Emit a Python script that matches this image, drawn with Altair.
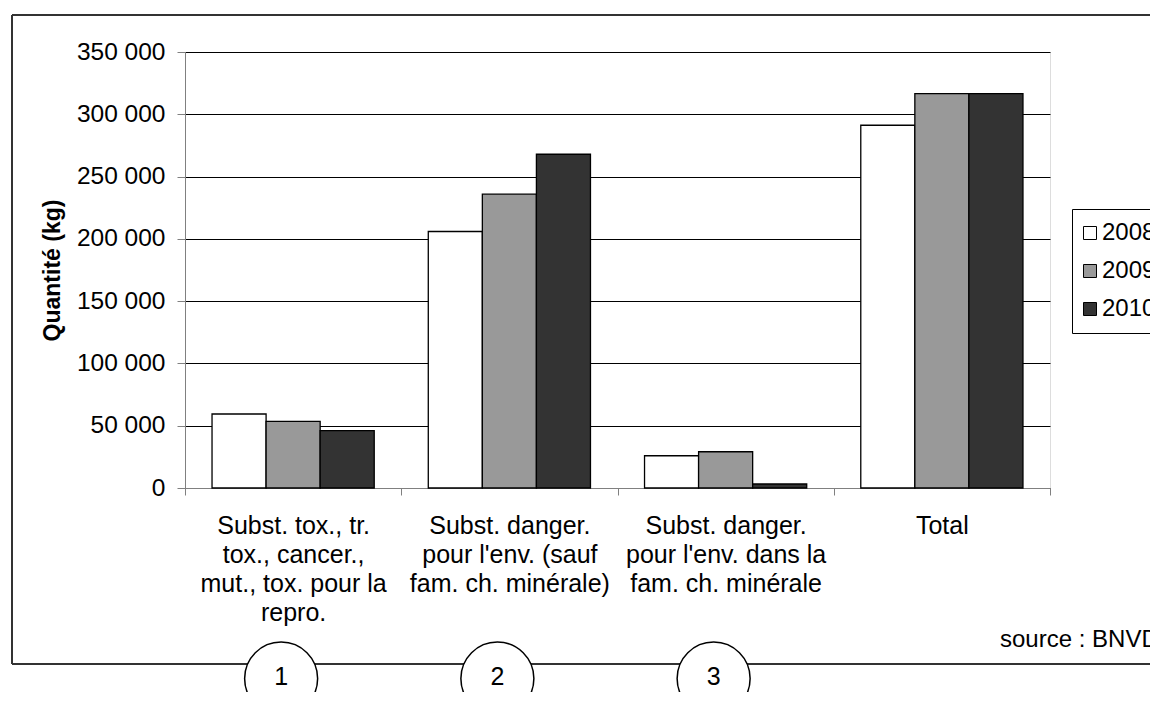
import altair as alt
import pandas as pd

categories = [
    "Subst. tox., tr.|tox., cancer.,|mut., tox. pour la|repro.",
    "Subst. danger.|pour l'env. (sauf|fam. ch. minérale)",
    "Subst. danger.|pour l'env. dans la|fam. ch. minérale",
    "Total",
]
years = ["2008", "2009", "2010"]
values_2008 = [59400, 205900, 25900, 291200]
values_2009 = [53500, 235900, 29100, 316600]
values_2010 = [46000, 267900, 3200, 316600]
year_colors = ["#ffffff", "#999999", "#333333"]
y_ticks = [0, 50000, 100000, 150000, 200000, 250000, 300000, 350000]
circle_labels = ["1", "2", "3"]
source_text = ["source : BNVD"]
y_title = "Quantité (kg)"

FONT = "Liberation Sans"

rows = []
for yr, vals in zip(years, [values_2008, values_2009, values_2010]):
    for c, v in zip(categories, vals):
        rows.append({"category": c, "year": yr, "value": v})
df = pd.DataFrame(rows)

x_enc = alt.X(
    "category:N",
    sort=categories,
    scale=alt.Scale(paddingInner=0, paddingOuter=0),
    axis=alt.Axis(
        title=None,
        tickBand="extent",
        labelExpr="split(datum.label, '|')",
        labelFont=FONT,
        labelFontSize=25,
        labelColor="#000000",
        labelAngle=0,
        labelLineHeight=29,
        labelPadding=18,
        labelLimit=400,
        labelOverlap=False,
        labelBound=False,
        tickSize=7,
        tickColor="#808080",
        domainColor="#808080",
        grid=False,
    ),
)

bars = alt.Chart(df).mark_bar(stroke="#000000", strokeWidth=1.3).encode(
    x=x_enc,
    xOffset=alt.XOffset("year:N", sort=years,
                        scale=alt.Scale(paddingInner=0, paddingOuter=0.5)),
    y=alt.Y(
        "value:Q",
        scale=alt.Scale(domain=[0, 350000], nice=False),
        axis=alt.Axis(
            values=y_ticks,
            labelExpr="replace(format(datum.value, ',d'), ',', ' ')",
            labelFont=FONT,
            labelFontSize=24.5,
            labelColor="#000000",
            labelPadding=12,
            tickSize=8,
            tickColor="#808080",
            domainColor="#808080",
            grid=True,
            gridColor="#000000",
            gridWidth=1,
            title=y_title,
            titleFont=FONT,
            titleFontSize=23,
            titleFontWeight="bold",
            titleColor="#000000",
            titleAngle=270,
            titleX=-133,
            titleY=218,
            titleAlign="center",
            titleBaseline="middle",
        ),
    ),
    fill=alt.Fill(
        "year:N",
        scale=alt.Scale(domain=years, range=year_colors),
        legend=alt.Legend(
            title=None,
            orient="none",
            legendX=887,
            legendY=157,
            symbolType="square",
            symbolSize=169,
            symbolStrokeColor="#000000",
            symbolStrokeWidth=1,
            symbolOffset={"expr": "-6"},
            labelFont=FONT,
            labelFontSize=24,
            labelColor="#000000",
            labelOffset=0,
            padding=12,
            rowPadding=14,
            strokeColor="#000000",
            fillColor="#ffffff",
        ),
    ),
)

one = pd.DataFrame({"a": [0]})
frame_color = "#333333"
frame_top = alt.Chart(one).mark_rule(color=frame_color, strokeWidth=2).encode(
    x=alt.value(-173), x2=alt.value(990), y=alt.value(-37))
frame_left = alt.Chart(one).mark_rule(color=frame_color, strokeWidth=2).encode(
    x=alt.value(-173), y=alt.value(-37), y2=alt.value(612))
frame_bottom = alt.Chart(one).mark_rule(color=frame_color, strokeWidth=2).encode(
    x=alt.value(-173), x2=alt.value(990), y=alt.value(612))

circ_df = pd.DataFrame({"category": categories[:3], "num": circle_labels})
circles = alt.Chart(circ_df).mark_point(
    shape="circle", size=5329, filled=True, color="#ffffff", fillOpacity=1,
    opacity=1, stroke="#000000", strokeWidth=1.5, xOffset=-12,
).encode(x=x_enc, y=alt.value(626.5))
digits = alt.Chart(circ_df).mark_text(
    font=FONT, fontSize=25, color="#000000", dx=-12, baseline="middle", align="center"
).encode(x=x_enc, y=alt.value(625), text="num:N")

src = alt.Chart(pd.DataFrame({"t": source_text})).mark_text(
    font=FONT, fontSize=24, color="#000000", align="left", baseline="alphabetic"
).encode(x=alt.value(815), y=alt.value(595), text="t:N")

chart = alt.layer(
    bars, frame_top, frame_left, frame_bottom, circles, digits, src
).properties(
    width=865,
    height=436,
    autosize=alt.AutoSizeParams(type="none"),
    padding={"left": 177, "top": 44, "right": 100, "bottom": 204},
).configure_view(strokeWidth=0).configure(font=FONT)

chart.save("out.html", embed_options={"renderer": "svg", "actions": False})
